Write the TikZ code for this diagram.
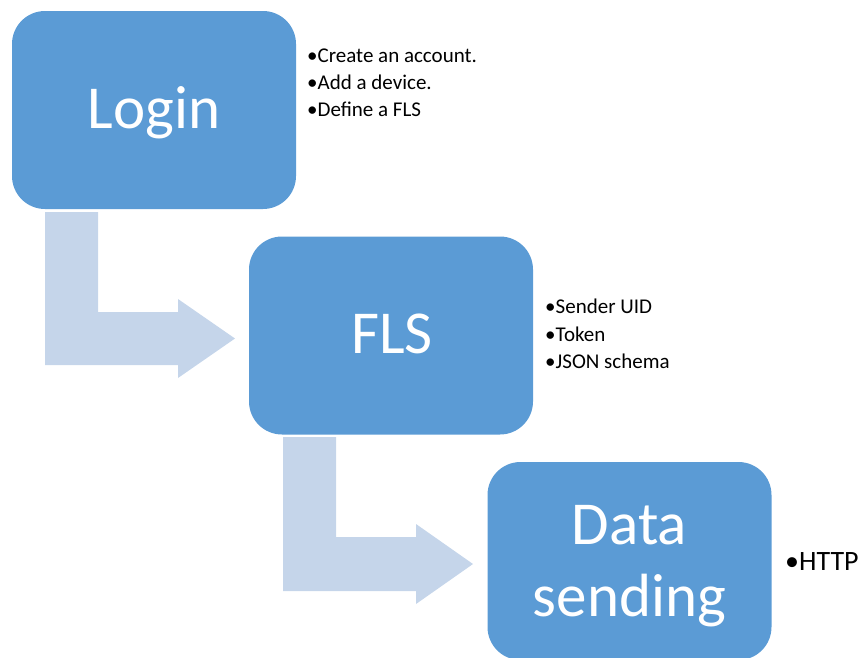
\documentclass[tikz,border=0pt]{standalone}
\usepackage{fontspec}
\setmainfont{Carlito}
\definecolor{stepblue}{HTML}{5B9BD5}
\definecolor{flowblue}{HTML}{C5D5EA}
\tikzset{
  stepbox/.style={fill=stepblue, draw=none, rounded corners=33pt,
    minimum width=284pt, minimum height=198pt, inner sep=0pt},
  steplabel/.style={text=white, anchor=base, inner sep=0pt,
    font=\fontsize{61}{72}\selectfont},
  bulletitem/.style={anchor=base west, inner sep=0pt, text=black,
    font=\fontsize{21}{27}\selectfont},
  bigbullet/.style={anchor=base west, inner sep=0pt, text=black,
    font=\fontsize{28}{34}\selectfont},
  flowarrow/.style={fill=flowblue, draw=none}
}
\begin{document}
\begin{tikzpicture}[x=1pt, y=-1pt]
  \useasboundingbox (0,0) rectangle (860,657);
  \clip (0,0) rectangle (860,657);

  % bent block arrows between the stages
  \fill[flowarrow] (45,212) -- (98,212) -- (98,312) -- (178,312) -- (178,299)
    -- (235,338.5) -- (178,378) -- (178,365) -- (45,365) -- cycle;
  \fill[flowarrow] (283,437) -- (336,437) -- (336,537) -- (416,537) -- (416,524)
    -- (473,564) -- (416,604) -- (416,591) -- (283,591) -- cycle;

  % stage boxes
  \node[stepbox] (login) at (154,110) {};
  \node[stepbox] (fls)   at (391,335.5) {};
  \node[stepbox] (send)  at (629.5,561) {};

  % stage titles
  \node[steplabel] (loginlbl) at (154,128) {Login};
  \node[steplabel] (flslbl)   at (392,353) {FLS};
  \node[steplabel] (datalbl)  at (629.5,544) {Data};
  \node[steplabel] (sendlbl)  at (629.5,616) {sending};

  % bullet notes
  \node[bulletitem] (l1) at (307,62)  {•Create an account.};
  \node[bulletitem] (l2) at (307,89)  {•Add a device.};
  \node[bulletitem] (l3) at (307,116) {•Define a FLS};

  \node[bulletitem] (f1) at (545,313) {•Sender UID};
  \node[bulletitem] (f2) at (545,341) {•Token};
  \node[bulletitem] (f3) at (545,368) {•JSON schema};

  \node[bigbullet] (h1) at (785,570) {•HTTP};
\end{tikzpicture}
\end{document}
